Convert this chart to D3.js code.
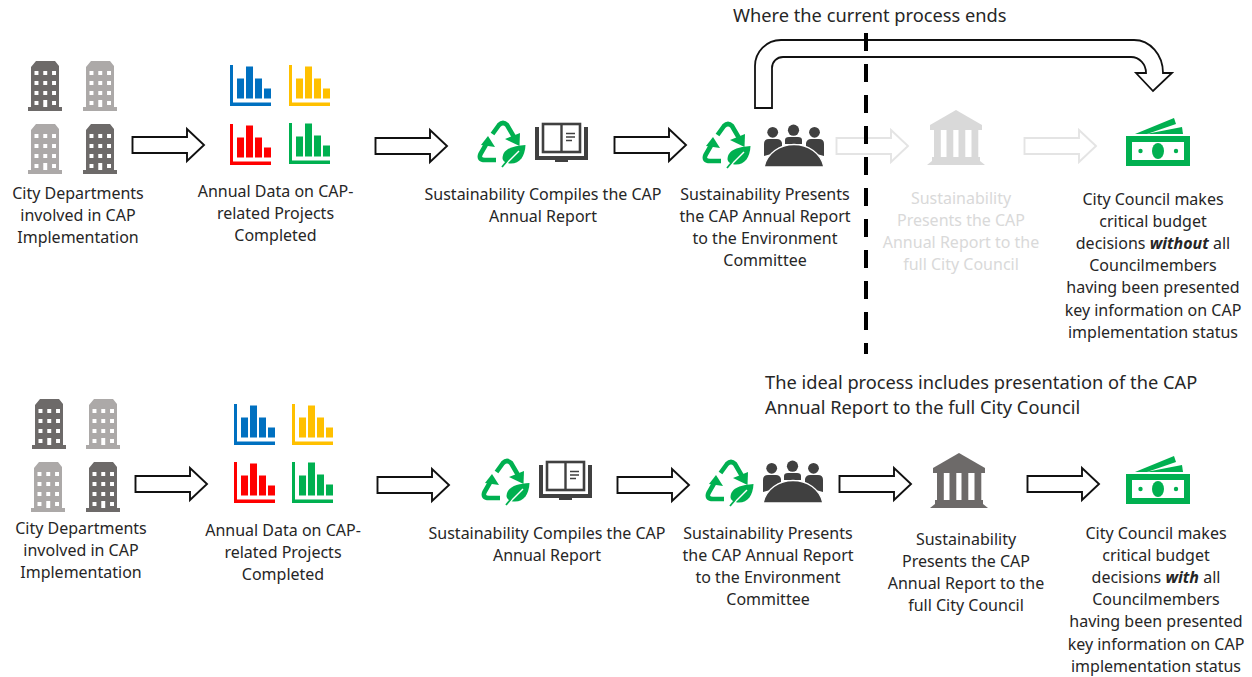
<!DOCTYPE html>
<html>
<head>
<meta charset="utf-8">
<script src="https://cdn.jsdelivr.net/npm/d3@7"></script>
<style>
  html, body { margin: 0; background: #fff; }
  svg { display: block; }
  text { font-family: "Noto Sans", "Open Sans", sans-serif; font-size: 16px; fill: #262626; text-anchor: middle; }
  .note { font-size: 18.25px; text-anchor: start; }
  .ghost { fill: #d9d9d9; }
</style>
</head>
<body>
<div class="flow"></div>
<script>
// text
const currentLabels = [
  ["City Departments", "involved in CAP", "Implementation"],
  ["Annual Data on CAP-", "related Projects", "Completed"],
  ["Sustainability Compiles the CAP", "Annual Report"],
  ["Sustainability Presents", "the CAP Annual Report", "to the Environment", "Committee"],
  ["Sustainability", "Presents the CAP", "Annual Report to the", "full City Council"],
  ["City Council makes", "critical budget", "decisions *without* all", "Councilmembers", "having been presented", "key information on CAP", "implementation status"],
];
const idealLabels = [
  ["City Departments", "involved in CAP", "Implementation"],
  ["Annual Data on CAP-", "related Projects", "Completed"],
  ["Sustainability Compiles the CAP", "Annual Report"],
  ["Sustainability Presents", "the CAP Annual Report", "to the Environment", "Committee"],
  ["Sustainability", "Presents the CAP", "Annual Report to the", "full City Council"],
  ["City Council makes", "critical budget", "decisions *with* all", "Councilmembers", "having been presented", "key information on CAP", "implementation status"],
];
const currentNote = ["Where the current process ends"];
const idealNote = ["The ideal process includes presentation of the CAP", "Annual Report to the full City Council"];

// bars inside the little chart icons, one list per icon
const chartBars = [
  [20, 32, 20, 10],
  [20, 32, 20, 10],
  [20, 32, 20, 10],
  [20, 33, 21, 11],
];
const chartColors = ["#0070c0", "#ffc000", "#ff0000", "#00b050"];
const buildingShades = ["dark", "light", "light", "dark"];

// layout, kept apart from the content
const rows = [
  {
    labels: currentLabels,
    ghostFrom: 4,
    capX: [78, 275.5, 543, 765, 961, 1153],
    capY: [199, 197, 200, 200, 204, 205],
    arrows: [[132, 145], [375, 146], [614, 145], [836, 146], [1024, 146]],
    buildings: [[28, 61], [83, 61], [28, 124], [83, 124]],
    charts: [[230, 65], [289, 65], [230, 124], [289, 123]],
    recycle: [[478, 120], [703, 121]],
    book: [535, 123],
    people: [764, 125],
    bank: [927, 110],
    money: [1126, 117],
  },
  {
    labels: idealLabels,
    ghostFrom: 99,
    capX: [81, 283, 547, 768, 966, 1156],
    capY: [534, 536, 539, 539, 545, 539],
    arrows: [[135, 484], [377, 485], [617, 485], [839, 484], [1027, 484]],
    buildings: [[32, 399], [86, 399], [31, 462], [86, 462]],
    charts: [[234, 404], [292, 404], [234, 462], [292, 462]],
    recycle: [[482, 458], [706, 459]],
    book: [539, 461],
    people: [763, 461],
    bank: [930, 453],
    money: [1126, 455],
  },
];

const svgWidth = 1252;
const svgHeight = 677;
const inkDark = "#404040";
const green = "#00b050";
const greyDark = "#6d6a69";
const greyLight = "#aca9a8";
const greyGhost = "#d9d9d9";

const svg = d3.select(".flow").append("svg").attr("width", svgWidth).attr("height", svgHeight);

const place = (pos) => svg.append("g").attr("transform", `translate(${pos[0]}, ${pos[1]})`);

const renderCaption = (lines, x, y, ghost) => {
  const t = svg.append("g");
  lines.forEach((line, i) => {
    const el = t.append("text").attr("x", x).attr("y", y + i * 22.1).attr("class", ghost ? "ghost" : null);
    line.split("*").forEach((part, j) => {
      const span = el.append("tspan").text(part);
      if (j === 1) span.attr("font-weight", 700).attr("font-style", "italic");
    });
  });
};

const renderArrow = (pos, color) => {
  const path = d3.path();
  path.moveTo(0.5, -8);
  path.lineTo(55, -8);
  path.lineTo(55, -16);
  path.lineTo(72, 0);
  path.lineTo(55, 16);
  path.lineTo(55, 8);
  path.lineTo(0.5, 8);
  path.closePath();
  place(pos).append("path").attr("d", path.toString())
    .attr("fill", "#fff").attr("stroke", color).attr("stroke-width", 1.9);
};

const renderBuilding = (pos, shade) => {
  const color = shade === "dark" ? greyDark : greyLight;
  const g = place(pos);
  g.append("path").attr("d", "M3,46 V6 L8,0 H27 L31,5 V46 H34 V50 H0 V46Z").attr("fill", color);
  const winX = d3.scaleBand().domain([0, 1, 2]).range([6.5, 28]).paddingInner(0.55);
  const winY = d3.scaleBand().domain([0, 1, 2, 3]).range([10, 44]).paddingInner(0.6);
  d3.cross([0, 1, 2], [0, 1, 2, 3]).forEach(([c, r]) => {
    if (c === 1 && r === 3) return;
    g.append("rect").attr("x", winX(c)).attr("y", winY(r))
      .attr("width", winX.bandwidth()).attr("height", winY.bandwidth()).attr("fill", "#fff");
  });
  g.append("rect").attr("x", winX(1)).attr("y", 39).attr("width", winX.bandwidth()).attr("height", 7).attr("fill", "#fff");
};

const renderChartIcon = (pos, bars, color) => {
  const g = place(pos);
  const x = d3.scaleBand().domain(d3.range(bars.length)).range([7, 41]).paddingInner(0.22);
  const y = d3.scaleLinear().domain([0, 33]).range([33.5, 0.5]);
  g.append("path").attr("d", "M0,0 H3 V37.5 H41 V41 H0Z").attr("fill", color);
  g.selectAll("rect").data(bars).enter().append("rect")
    .attr("x", (d, i) => x(i))
    .attr("y", (d) => y(d))
    .attr("width", x.bandwidth())
    .attr("height", (d) => y(0) - y(d))
    .attr("fill", color);
};

const renderRecycle = (pos) => {
  const g = place(pos);
  const line = (d) => g.append("path").attr("d", d).attr("fill", "none")
    .attr("stroke", green).attr("stroke-width", 4.6).attr("stroke-linejoin", "round");
  line("M14.5,14 L21,5 Q25,1 29,5 L36,17");
  line("M10,21 L2.5,34 Q0,40 7,40 H18");
  g.append("path").attr("d", "M27,19 L42,13 L41.5,26Z").attr("fill", green);
  g.append("path").attr("d", "M10,16 L17,27 L3,25Z").attr("fill", green);
  g.append("path").attr("d", "M47.5,25 C36,26 25,28 24.5,38 C24.5,41 28,43.5 33,43.5 C42,43.5 47,36 47.5,25Z").attr("fill", green);
  g.append("path").attr("d", "M26,46 L41,31").attr("stroke", "#fff").attr("stroke-width", 1.4);
  g.append("path").attr("d", "M24,47 L29,41").attr("stroke", green).attr("stroke-width", 1.8);
};

const renderBook = (pos) => {
  const g = place(pos);
  g.append("path").attr("d", "M0,4 H4 V33 H49 V4 H53 V37 H33 V39 H20 V37 H0Z").attr("fill", inkDark);
  g.append("rect").attr("x", 8).attr("y", 1).attr("width", 37).attr("height", 28)
    .attr("fill", "#fff").attr("stroke", inkDark).attr("stroke-width", 2.6);
  g.append("path").attr("d", "M26.5,1 V29").attr("stroke", inkDark).attr("stroke-width", 2.4);
  g.append("path").attr("d", "M31,10.5 H40 M31,14 H40 M31,17.5 H37").attr("stroke", inkDark).attr("stroke-width", 1.3);
};

const renderPeople = (pos) => {
  const g = place(pos);
  g.selectAll("circle").data([[8.7, 7.3, 5.4], [29.5, 5.2, 5.6], [50.5, 7.3, 5.4]]).enter().append("circle")
    .attr("cx", (d) => d[0]).attr("cy", (d) => d[1]).attr("r", (d) => d[2]).attr("fill", inkDark);
  g.append("path").attr("d", "M0,31 V19 Q0,14 5,14 H13 Q17,14 18,18 V26Z").attr("fill", inkDark);
  g.append("path").attr("d", "M21,19 V15 Q21,12 25,12 H34 Q38,12 38,15 V19Z").attr("fill", inkDark);
  g.append("path").attr("d", "M60,31 V19 Q60,14 55,14 H47 Q43,14 42,18 V26Z").attr("fill", inkDark);
  g.append("path").attr("d", "M0,42 C3,28 16,19.5 30,19.5 C44,19.5 57,28 60,42Z")
    .attr("fill", inkDark).attr("stroke", "#fff").attr("stroke-width", 1.4);
};

const renderBank = (pos, color) => {
  const g = place(pos);
  g.append("path").attr("d", "M29,0 L55,15 V20 H3 V15Z").attr("fill", color);
  g.selectAll("rect").data([7, 19.5, 31.5, 44.5]).enter().append("rect")
    .attr("x", (d) => d).attr("y", 20).attr("width", 6.8).attr("height", 27).attr("fill", color);
  g.append("path").attr("d", "M5,47 H53 V51 L58,55 H0 L5,51Z").attr("fill", color);
};

const renderMoney = (pos) => {
  const g = place(pos);
  g.append("path").attr("d", "M9,17 L48,1 L50,7 L21,17Z").attr("fill", green);
  g.append("path").attr("d", "M20,17 L56,10 L57,17Z").attr("fill", green);
  g.append("rect").attr("x", 3).attr("y", 22).attr("width", 58).attr("height", 24)
    .attr("fill", "#fff").attr("stroke", green).attr("stroke-width", 6);
  g.append("ellipse").attr("cx", 32).attr("cy", 34).attr("rx", 6).attr("ry", 8).attr("fill", green);
  g.selectAll("circle").data([14.5, 50]).enter().append("circle")
    .attr("cx", (d) => d).attr("cy", 34).attr("r", 2.2).attr("fill", green);
};

const renderRow = (row) => {
  row.arrows.forEach((pos, i) => {
    renderArrow(pos, i + 1 >= row.ghostFrom ? "#e4e4e4" : "#111");
  });
  row.buildings.forEach((pos, i) => renderBuilding(pos, buildingShades[i]));
  row.charts.forEach((pos, i) => renderChartIcon(pos, chartBars[i], chartColors[i]));
  row.recycle.forEach(renderRecycle);
  renderBook(row.book);
  renderPeople(row.people);
  renderBank(row.bank, row.ghostFrom < 99 ? greyGhost : greyDark);
  renderMoney(row.money);
  row.labels.forEach((lines, i) => {
    renderCaption(lines, row.capX[i], row.capY[i], i === row.ghostFrom);
  });
};

rows.forEach(renderRow);

// curved arrow skipping the full council step
svg.append("path")
  .attr("d", "M755,108 V66 A26,26 0 0 1 781,40 H1134 A29,33 0 0 1 1163,73 H1172 L1153,91 L1136,73 H1146 A15,16 0 0 0 1131,57 H783 A11,11 0 0 0 772,68 V108Z")
  .attr("fill", "#fff").attr("stroke", "#111").attr("stroke-width", 1.8);

// the cut-off line
svg.append("line")
  .attr("x1", 866).attr("x2", 866).attr("y1", 33).attr("y2", 354)
  .attr("stroke", "#000").attr("stroke-width", 4).attr("stroke-dasharray", "18 13");

svg.append("text").attr("class", "note").attr("x", 733).attr("y", 22).text(currentNote[0]);
idealNote.forEach((line, i) => {
  svg.append("text").attr("class", "note").attr("x", 765).attr("y", 389 + i * 25).text(line);
});
</script>
</body>
</html>
